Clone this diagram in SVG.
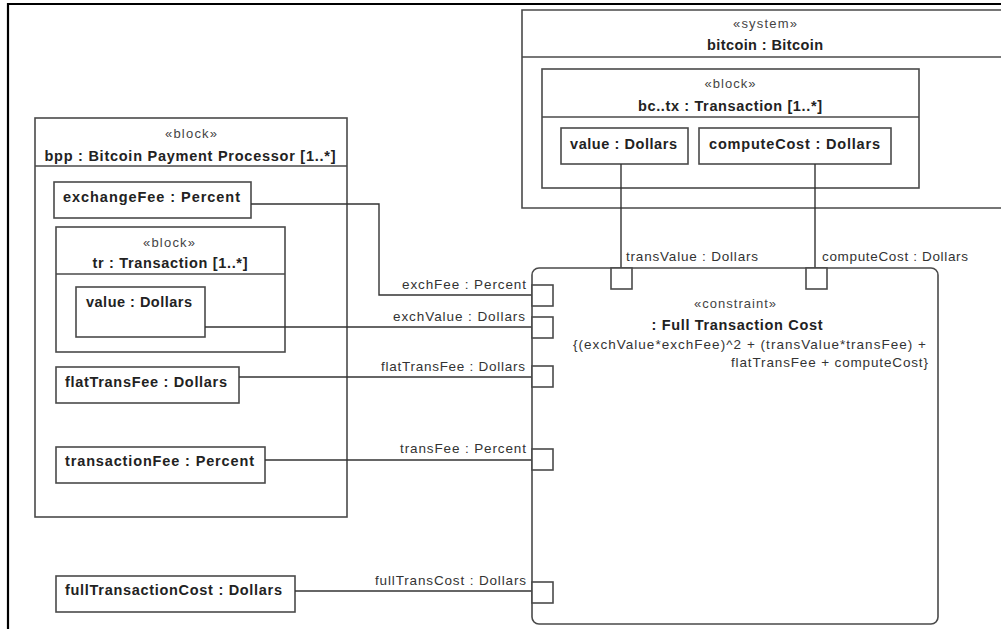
<svg xmlns="http://www.w3.org/2000/svg" width="1001" height="629" viewBox="0 0 1001 629">
<style>
.box{fill:none;stroke:#4a4a4a;stroke-width:1.6}
.port{fill:#fff;stroke:#4a4a4a;stroke-width:1.6}
.conn{fill:none;stroke:#333;stroke-width:1.4}
.b{font-family:"Liberation Sans",Arial,sans-serif;font-weight:bold;font-size:14.5px;fill:#222}
.r{font-family:"Liberation Sans",Arial,sans-serif;font-size:13.5px;fill:#333}
.st{font-family:"Liberation Sans",Arial,sans-serif;font-size:13px;fill:#444}
.c{text-anchor:middle}
.e{text-anchor:end}
</style>
<rect width="1001" height="629" fill="#fff"/>
<path d="M8,629 V4 H1001" fill="none" stroke="#000" stroke-width="2.2"/>

<g id="bitcoin">
  <path class="box" d="M1010,10 H522 V208 H1010"/>
  <line class="box" x1="522" y1="57" x2="1010" y2="57"/>
  <text class="st c" x="765" y="28" textLength="64" lengthAdjust="spacing">«system»</text>
  <text class="b c" x="765" y="50" textLength="116" lengthAdjust="spacing">bitcoin : Bitcoin</text>
</g>
<g id="bctx">
  <rect class="box" x="542" y="69" width="377" height="119"/>
  <line class="box" x1="542" y1="117" x2="919" y2="117"/>
  <text class="st c" x="730" y="88" textLength="51" lengthAdjust="spacing">«block»</text>
  <text class="b c" x="730" y="111" textLength="184" lengthAdjust="spacing">bc..tx : Transaction [1..*]</text>
</g>
<g id="bctx-value">
  <rect class="box" x="561" y="128" width="127" height="36"/>
  <text class="b" x="570" y="149" textLength="107" lengthAdjust="spacing">value : Dollars</text>
</g>
<g id="bctx-computeCost">
  <rect class="box" x="699" y="128" width="192" height="36"/>
  <text class="b" x="709" y="149" textLength="171" lengthAdjust="spacing">computeCost : Dollars</text>
</g>

<g id="bpp">
  <rect class="box" x="35" y="118" width="312" height="399"/>
  <line class="box" x1="35" y1="166" x2="347" y2="166"/>
  <text class="st c" x="191" y="138" textLength="52" lengthAdjust="spacing">«block»</text>
  <text class="b c" x="190" y="161" textLength="291" lengthAdjust="spacing">bpp : Bitcoin Payment Processor [1..*]</text>
</g>
<g id="exchangeFee">
  <rect class="box" x="54" y="182" width="197" height="36"/>
  <text class="b" x="63" y="202" textLength="177" lengthAdjust="spacing">exchangeFee : Percent</text>
</g>
<g id="tr">
  <rect class="box" x="56" y="227" width="229" height="125"/>
  <line class="box" x1="56" y1="274" x2="285" y2="274"/>
  <text class="st c" x="169" y="247" textLength="52" lengthAdjust="spacing">«block»</text>
  <text class="b c" x="170" y="268" textLength="155" lengthAdjust="spacing">tr : Transaction [1..*]</text>
</g>
<g id="tr-value">
  <rect class="box" x="76" y="287" width="129" height="50"/>
  <text class="b" x="86" y="307" textLength="106" lengthAdjust="spacing">value : Dollars</text>
</g>
<g id="flatTransFee">
  <rect class="box" x="56" y="367" width="183" height="36"/>
  <text class="b" x="65" y="387" textLength="162" lengthAdjust="spacing">flatTransFee : Dollars</text>
</g>
<g id="transactionFee">
  <rect class="box" x="56" y="447" width="209" height="36"/>
  <text class="b" x="65" y="466" textLength="189" lengthAdjust="spacing">transactionFee : Percent</text>
</g>
<g id="fullTransactionCost">
  <rect class="box" x="56" y="576" width="239" height="36"/>
  <text class="b" x="65" y="595" textLength="217" lengthAdjust="spacing">fullTransactionCost : Dollars</text>
</g>

<g id="connectors">
  <path class="conn" d="M251,204 H379 V295 H532"/>
  <path class="conn" d="M205,327 H532"/>
  <path class="conn" d="M239,377 H532"/>
  <path class="conn" d="M265,460 H532"/>
  <path class="conn" d="M295,591 H532"/>
  <path class="conn" d="M621,164 V268"/>
  <path class="conn" d="M815,164 V268"/>
</g>

<g id="fullTransactionCostConstraint">
  <rect class="box" x="532" y="268" width="406" height="356" rx="7"/>
  <text class="st c" x="735" y="308" textLength="82" lengthAdjust="spacing">«constraint»</text>
  <text class="b c" x="737" y="330" textLength="171" lengthAdjust="spacing">: Full Transaction Cost</text>
  <text class="r e" x="926" y="349" textLength="353" lengthAdjust="spacing">{(exchValue*exchFee)^2 + (transValue*transFee) +</text>
  <text class="r e" x="928" y="367" textLength="197" lengthAdjust="spacing">flatTransFee + computeCost}</text>
  <rect class="port" x="532" y="285" width="21" height="21"/>
  <rect class="port" x="532" y="317" width="21" height="21"/>
  <rect class="port" x="532" y="366" width="21" height="21"/>
  <rect class="port" x="532" y="449" width="21" height="21"/>
  <rect class="port" x="532" y="582" width="21" height="21"/>
  <rect class="port" x="611" y="268" width="21" height="21"/>
  <rect class="port" x="806" y="268" width="21" height="21"/>
  <text class="r e" x="526" y="289" textLength="124" lengthAdjust="spacing">exchFee : Percent</text>
  <text class="r e" x="525" y="321" textLength="132" lengthAdjust="spacing">exchValue : Dollars</text>
  <text class="r e" x="525" y="371" textLength="144" lengthAdjust="spacing">flatTransFee : Dollars</text>
  <text class="r e" x="526" y="453" textLength="126" lengthAdjust="spacing">transFee : Percent</text>
  <text class="r e" x="526" y="585" textLength="151" lengthAdjust="spacing">fullTransCost : Dollars</text>
  <text class="r" x="626" y="261" textLength="132" lengthAdjust="spacing">transValue : Dollars</text>
  <text class="r" x="822" y="261" textLength="146" lengthAdjust="spacing">computeCost : Dollars</text>
</g>
</svg>
